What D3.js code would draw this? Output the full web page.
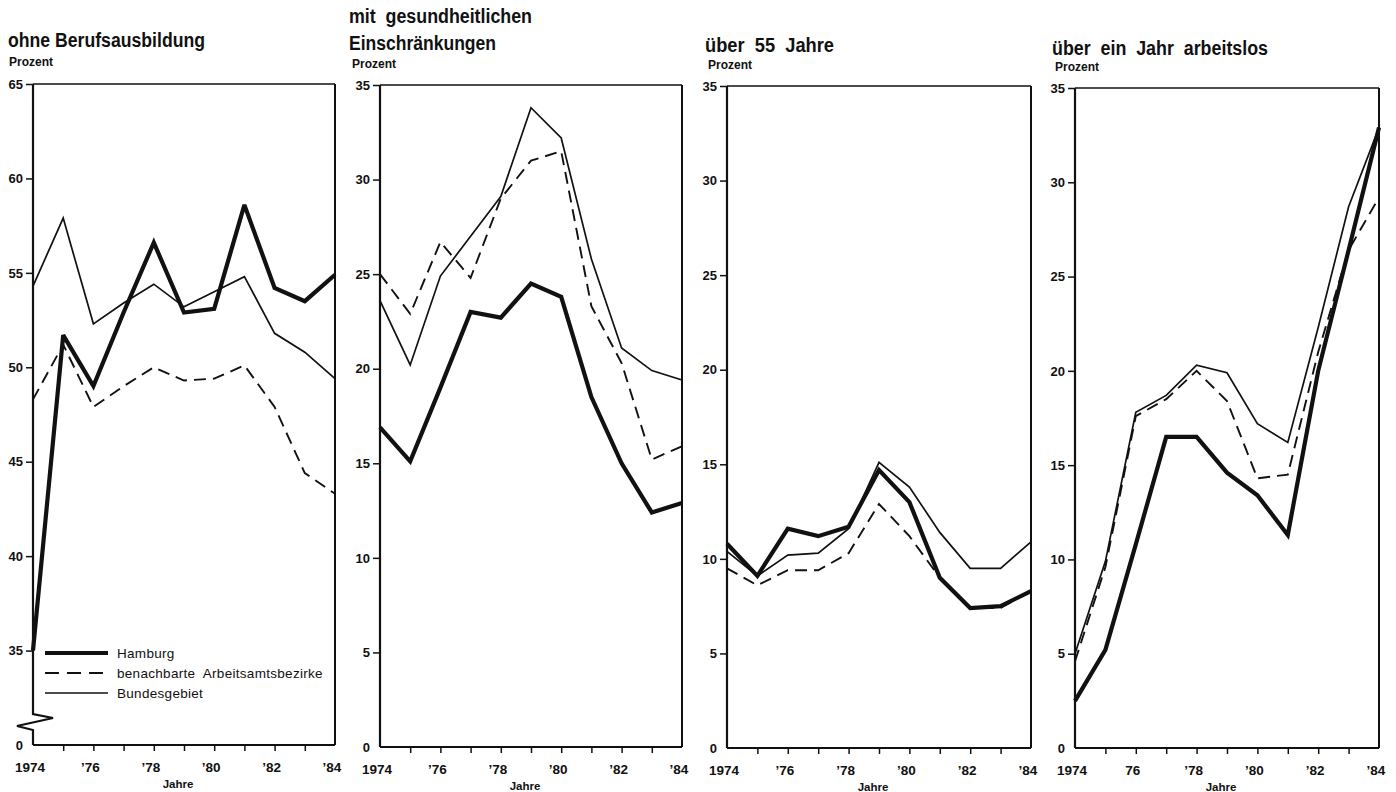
<!DOCTYPE html>
<html>
<head>
<meta charset="utf-8">
<script src="https://cdn.jsdelivr.net/npm/d3@7"></script>
<style>
  html, body { margin: 0; padding: 0; background: #fff; }
  svg { display: block; }
  .title { font-family: "Liberation Sans", Arial, sans-serif; font-weight: bold; font-size: 20px; fill: #111; }
  .unit { font-family: "Liberation Sans", Arial, sans-serif; font-weight: bold; font-size: 12px; fill: #111; }
  .tick text { font-family: "Liberation Sans", Arial, sans-serif; font-weight: bold; fill: #111; }
  .xlab { font-family: "Liberation Sans", Arial, sans-serif; font-weight: bold; font-size: 11.5px; fill: #111; }
  .legend text { font-family: "Liberation Sans", Arial, sans-serif; font-size: 13.5px; fill: #111; letter-spacing: 0.3px; }
</style>
</head>
<body>
<svg id="chart" width="1396" height="792"></svg>
<script>
// ---------- data ----------
const years = [1974, 1975, 1976, 1977, 1978, 1979, 1980, 1981, 1982, 1983, 1984];
const xTickYears = [1974, 1976, 1978, 1980, 1982, 1984];
const xTickLabels = ["1974", "\u201976", "\u201978", "\u201980", "\u201982", "\u201984"];
const xTickLabelsLast = ["1974", "76", "\u201978", "\u201980", "\u201982", "\u201984"];
const seriesNames = ["Hamburg", "benachbarte  Arbeitsamtsbezirke", "Bundesgebiet"];
const panelTitles = [
  ["ohne Berufsausbildung"],
  ["mit  gesundheitlichen", "Einschränkungen"],
  ["über  55  Jahre"],
  ["über  ein  Jahr  arbeitslos"]
];
const unitLabel = "Prozent";
const xAxisLabel = "Jahre";

// panel 1: ohne Berufsausbildung
const hamburgOhne = [35.0, 51.7, 49.0, 52.9, 56.6, 52.9, 53.1, 58.6, 54.2, 53.5, 54.9];
const nachbarOhne = [48.3, 51.2, 47.9, 49.0, 50.0, 49.3, 49.4, 50.1, 47.9, 44.4, 43.3];
const bundOhne    = [54.3, 57.9, 52.3, 53.4, 54.4, 53.2, 54.0, 54.8, 51.8, 50.8, 49.4];

// panel 2: mit gesundheitlichen Einschraenkungen
const hamburgGes = [16.9, 15.1, 19.0, 23.0, 22.7, 24.5, 23.8, 18.5, 15.0, 12.4, 12.9];
const nachbarGes = [25.0, 22.9, 26.7, 24.8, 29.0, 31.0, 31.5, 23.3, 20.3, 15.2, 15.9];
const bundGes    = [23.6, 20.2, 24.9, 27.0, 29.1, 33.8, 32.2, 25.8, 21.1, 19.9, 19.4];

// panel 3: ueber 55 Jahre
const hamburg55 = [10.8, 9.1, 11.6, 11.2, 11.7, 14.7, 13.0, 9.0, 7.4, 7.5, 8.3];
const nachbar55 = [9.5, 8.6, 9.4, 9.4, 10.3, 12.9, 11.2, 9.0, 7.4, 7.4, 8.3];
const bund55    = [10.4, 9.1, 10.2, 10.3, 11.6, 15.1, 13.8, 11.4, 9.5, 9.5, 10.9];

// panel 4: ueber ein Jahr arbeitslos
const hamburgLang = [2.5, 5.2, 10.8, 16.5, 16.5, 14.6, 13.4, 11.3, 20.0, 26.4, 32.9];
const nachbarLang = [4.6, 9.6, 17.6, 18.5, 20.0, 18.4, 14.3, 14.5, 21.0, 26.4, 29.2];
const bundLang    = [5.0, 9.9, 17.8, 18.7, 20.3, 19.9, 17.2, 16.2, 22.3, 28.7, 32.9];

// y axis ticks
const yTicksFirst = [30, 35, 40, 45, 50, 55, 60, 65];   // 30 = axis break, labelled "0"
const yTicksOther = [0, 5, 10, 15, 20, 25, 30, 35];

// ---------- layout (not data) ----------
const layout = [
  { left: 33,   right: 335,  top: 84, bottom: 745, tx: 8,    ty: [47],     tw: [197],      uy: 66, dom: [30, 65], ticks: yTicksFirst, brk: true },
  { left: 380,  right: 682,  top: 85, bottom: 747, tx: 349,  ty: [23, 50], tw: [183, 147], uy: 68, dom: [0, 35],  ticks: yTicksOther },
  { left: 727,  right: 1031, top: 86, bottom: 748, tx: 705,  ty: [52],     tw: [129],      uy: 69, dom: [0, 35],  ticks: yTicksOther },
  { left: 1075, right: 1379, top: 88, bottom: 748, tx: 1052, ty: [55],     tw: [216],      uy: 71, dom: [0, 35],  ticks: yTicksOther, lastLabels: true }
];
const panelSeries = [
  [hamburgOhne, nachbarOhne, bundOhne],
  [hamburgGes, nachbarGes, bundGes],
  [hamburg55, nachbar55, bund55],
  [hamburgLang, nachbarLang, bundLang]
];
const styles = [
  { w: 4.2, dash: null },
  { w: 1.9, dash: "12,7" },
  { w: 1.7, dash: null }
];
const ink = "#111";

const svg = d3.select("#chart");

layout.forEach((L, i) => {
  const g = svg.append("g");
  const x = d3.scaleLinear().domain([1974, 1984]).range([L.left, L.right]);
  const y = d3.scaleLinear().domain(L.dom).range([L.bottom, L.top]);

  // titles
  panelTitles[i].forEach((t, k) => {
    g.append("text").attr("class", "title").attr("x", L.tx).attr("y", L.ty[k])
      .attr("textLength", L.tw[k]).attr("lengthAdjust", "spacingAndGlyphs")
      .attr("xml:space", "preserve").text(t);
  });
  g.append("text").attr("class", "unit").attr("x", L.tx + (i === 0 ? 1 : 3)).attr("y", L.uy).text(unitLabel);

  // frame: top, right, bottom
  g.append("line").attr("x1", L.left).attr("x2", L.right).attr("y1", L.top).attr("y2", L.top)
    .attr("stroke", ink).attr("stroke-width", 1.6);
  g.append("line").attr("x1", L.right).attr("x2", L.right).attr("y1", L.top).attr("y2", L.bottom)
    .attr("stroke", ink).attr("stroke-width", 2);
  g.append("line").attr("x1", L.left).attr("x2", L.right).attr("y1", L.bottom).attr("y2", L.bottom)
    .attr("stroke", ink).attr("stroke-width", 2);

  // left axis line (with break on first panel)
  if (L.brk) {
    const b1 = L.bottom - 31, b2 = L.bottom - 15;
    const p = d3.path();
    p.moveTo(L.left, L.top);
    p.lineTo(L.left, b1);
    p.lineTo(L.left + 20, b1 + 4);
    p.lineTo(L.left - 16, b1 + 12);
    p.lineTo(L.left, b2);
    p.lineTo(L.left, L.bottom);
    g.append("path").attr("d", p.toString()).attr("fill", "none").attr("stroke", ink)
      .attr("stroke-width", 2.2).attr("stroke-linejoin", "miter");
  } else {
    g.append("line").attr("x1", L.left).attr("x2", L.left).attr("y1", L.top).attr("y2", L.bottom)
      .attr("stroke", ink).attr("stroke-width", 2.2);
  }

  // y axis
  const ya = d3.axisLeft(y).tickValues(L.ticks).tickSize(7).tickPadding(3)
    .tickFormat(d => (L.brk && d === 30) ? "0" : String(d));
  const yg = g.append("g").attr("transform", `translate(${L.left},0)`).call(ya);
  yg.select(".domain").remove();
  yg.selectAll(".tick line").attr("stroke", ink).attr("stroke-width", 1.5)
    .filter(d => d === L.dom[0]).remove();
  yg.selectAll(".tick text").style("font-size", "13px").attr("x", -10);

  // x axis
  const xa = d3.axisBottom(x).tickValues(years).tickSize(6).tickPadding(0).tickFormat("");
  const xg = g.append("g").attr("transform", `translate(0,${L.bottom})`).call(xa);
  xg.select(".domain").remove();
  xg.selectAll(".tick line").attr("stroke", ink).attr("stroke-width", 1.5)
    .filter(d => d === 1974 || d === 1984).remove();
  const labels = L.lastLabels ? xTickLabelsLast : xTickLabels;
  g.selectAll(".xl").data(xTickYears).enter().append("text")
    .attr("class", "tick").attr("x", d => x(d) - 3).attr("y", L.bottom + 27)
    .attr("text-anchor", "middle")
    .append("tspan").style("font-size", "13.5px").style("font-family", "'Liberation Sans', Arial, sans-serif")
    .style("font-weight", "bold").attr("fill", ink)
    .text((d, k) => labels[k]);
  g.append("text").attr("class", "xlab").attr("x", x(1979) - 6).attr("y", L.bottom + 43)
    .attr("text-anchor", "middle").text(xAxisLabel);

  // lines (draw dashed and thin first, thick on top)
  const line = d3.line().x((d, k) => x(years[k])).y(d => y(d));
  [2, 1, 0].forEach(s => {
    g.append("path").datum(panelSeries[i][s]).attr("d", line)
      .attr("fill", "none").attr("stroke", ink)
      .attr("stroke-width", styles[s].w)
      .attr("stroke-dasharray", styles[s].dash)
      .attr("stroke-linejoin", "miter").attr("stroke-miterlimit", 3);
  });

  // legend in first panel
  if (i === 0) {
    const lg = g.append("g").attr("class", "legend");
    const ly = [653, 673, 693];
    seriesNames.forEach((n, k) => {
      lg.append("line").attr("x1", 45).attr("x2", 108).attr("y1", ly[k]).attr("y2", ly[k])
        .attr("stroke", ink).attr("stroke-width", styles[k].w)
        .attr("stroke-dasharray", k === 1 ? "14,8" : null);
      lg.append("text").attr("x", 117).attr("y", ly[k] + 4.5).attr("xml:space", "preserve")
        .style("white-space", "pre").text(n);
    });
  }
});
</script>
</body>
</html>
